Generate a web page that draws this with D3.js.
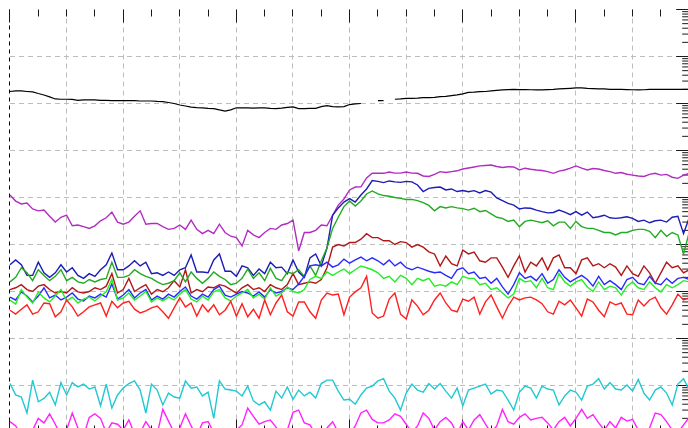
<!DOCTYPE html>
<html>
<head>
<meta charset="utf-8">
<script src="https://cdn.jsdelivr.net/npm/d3@7"></script>
<style>
  html, body { margin: 0; padding: 0; background: #fff; overflow: hidden; }
  svg { display: block; }
</style>
</head>
<body>
<svg id="chart" width="688" height="428"></svg>
<script>
// Sample times (one reading every 10 units over 0..1200)
const step = 10;
const time = d3.range(0, 1201, step);

// Tick positions along the time axis
const gridTimes = d3.range(100, 1200, 100);
const minorTimes = d3.range(0, 1201, 50);
const majorEvery = 200;

// Series readings (log-scaled quantity)
const black = [
  1.8e7, 1.85e7, 1.85e7, 1.8e7, 1.76e7, 1.63e7, 1.52e7, 1.38e7, 1.25e7, 1.23e7,
  1.23e7, 1.22e7, 1.17e7, 1.19e7, 1.19e7, 1.19e7, 1.17e7, 1.16e7, 1.15e7, 1.15e7,
  1.15e7, 1.15e7, 1.15e7, 1.13e7, 1.13e7, 1.13e7, 1.11e7, 1.1e7, 1.05e7, 1.0e7,
  9.3e6, 8.85e6, 8.4e6, 8.2e6, 8.1e6, 7.9e6, 7.8e6, 7.3e6, 6.9e6, 7.3e6,
  8.1e6, 8.1e6, 8.1e6, 8.0e6, 8.1e6, 8.1e6, 7.9e6, 7.8e6, 8.0e6, 8.3e6,
  8.5e6, 7.8e6, 7.8e6, 7.9e6, 7.9e6, 8.6e6, 9.0e6, 8.6e6, 8.5e6, 8.6e6,
  9.5e6, 9.8e6, 1.0e7, null, null, 1.15e7, 1.15e7, null, 1.23e7, 1.25e7,
  1.28e7, 1.29e7, 1.3e7, 1.33e7, 1.33e7, 1.35e7, 1.4e7, 1.42e7, 1.47e7, 1.52e7,
  1.6e7, 1.72e7, 1.74e7, 1.79e7, 1.8e7, 1.85e7, 1.9e7, 1.94e7, 1.98e7, 2.0e7,
  1.98e7, 1.98e7, 1.96e7, 1.94e7, 1.94e7, 1.98e7, 2.0e7, 2.04e7, 2.07e7, 2.1e7,
  2.14e7, 2.14e7, 2.09e7, 2.07e7, 2.04e7, 2.04e7, 2.0e7, 2.0e7, 2.0e7, 1.98e7,
  1.96e7, 1.94e7, 1.96e7, 2.0e7, 2.0e7, 2.0e7, 2.0e7, 2.0e7, 2.0e7, 2.0e7,
  2.0e7
];

const purple = [
  113000, 84000, 73000, 76000, 57000, 52000, 54000, 40000, 30000, 38000,
  42000, 25000, 26000, 24000, 22000, 25000, 32000, 37000, 49000, 30000,
  27000, 30000, 40000, 52000, 27000, 28000, 28000, 24000, 21000, 22000,
  26000, 21000, 33000, 21000, 17000, 20000, 17000, 27000, 18000, 15000,
  14000, 9300, 20000, 16000, 14000, 18000, 22000, 21000, 26000, 28000,
  33000, 7300, 18000, 18000, 20000, 26000, 25000, 42000, 69000, 93000,
  145000, 167000, 168000, 260000, 327000, 327000, 327000, 348000, 330000, 330000,
  348000, 330000, 327000, 287000, 280000, 310000, 355000, 340000, 355000, 370000,
  404000, 425000, 446000, 470000, 480000, 490000, 457000, 435000, 450000, 446000,
  385000, 420000, 400000, 385000, 375000, 355000, 327000, 365000, 385000, 420000,
  470000, 420000, 385000, 414000, 404000, 375000, 355000, 327000, 340000, 313000,
  300000, 287000, 280000, 310000, 327000, 300000, 310000, 270000, 256000, 300000,
  327000
];

const darkBlue = [
  3700, 4700, 3700, 2200, 2200, 4200, 2500, 2000, 2500, 3700,
  2600, 3200, 2200, 1900, 2400, 2100, 2900, 3700, 6600, 2900,
  2900, 3500, 4500, 3500, 4200, 2400, 2500, 2200, 2600, 2200,
  2900, 3200, 6000, 2600, 2600, 2500, 4700, 6300, 2700, 2700,
  2100, 3500, 3200, 2200, 3000, 2400, 4200, 3200, 3300, 2400,
  4700, 2600, 2000, 5200, 6300, 3500, 8400, 42000, 60000, 80000,
  95000, 80000, 113000, 152000, 230000, 220000, 207000, 225000, 215000, 210000,
  220000, 215000, 185000, 134000, 156000, 163000, 167000, 145000, 152000, 134000,
  141000, 133000, 140000, 125000, 141000, 130000, 98000, 86000, 75000, 69000,
  57000, 60000, 59000, 54000, 50000, 47000, 48000, 54000, 49000, 43000,
  50000, 42000, 49000, 37000, 39000, 42000, 37000, 36000, 37000, 39000,
  36000, 31000, 33000, 29000, 32000, 33000, 30000, 38000, 40000, 17000,
  37000
];

const darkGreen = [
  1600, 2000, 3200, 2500, 1700, 2900, 2200, 1700, 2100, 2900,
  1700, 2000, 1600, 1500, 1800, 1600, 1800, 1900, 4200, 2000,
  2000, 2200, 2900, 2400, 2100, 1900, 1600, 1400, 1500, 1700,
  2500, 1600, 2600, 1900, 1500, 1900, 2600, 2100, 1800, 1400,
  1500, 1900, 3000, 1900, 2500, 1700, 3100, 1900, 1700, 2600,
  2400, 2900, 2100, 3500, 2200, 4500, 8400, 22000, 38000, 64000,
  84000, 66000, 84000, 119000, 138000, 119000, 110000, 106000, 100000, 96000,
  91000, 91000, 86000, 78000, 68000, 52000, 64000, 60000, 64000, 60000,
  58000, 54000, 59000, 50000, 53000, 45000, 38000, 36000, 31000, 33000,
  24000, 31000, 33000, 31000, 29000, 32000, 25000, 30000, 30000, 22000,
  31000, 24000, 22000, 22000, 20000, 18000, 18000, 16000, 18000, 18000,
  20000, 21000, 21000, 19000, 14000, 20000, 15000, 18000, 16000, 6300,
  18000
];

const darkRed = [
  1100, 1200, 1400, 1100, 1000, 1300, 1400, 1100, 930, 1000,
  930, 1200, 980, 930, 1000, 1200, 1100, 1300, 2400, 930,
  1100, 1900, 1000, 1200, 1400, 880, 1100, 990, 1200, 1700,
  1250, 2900, 930, 1100, 990, 1250, 1200, 1400, 1300, 1100,
  920, 1200, 1400, 1100, 1200, 1000, 1400, 1200, 1100, 1400,
  2400, 1400, 1500, 1600, 1500, 1800, 3200, 8800, 10000, 9300,
  11000, 11000, 13000, 17000, 14000, 14000, 12000, 12000, 10000, 11500,
  11000, 8800, 10000, 8800, 7000, 6300, 3500, 5700, 3900, 3500,
  7600, 6300, 6900, 4500, 4200, 5200, 5200, 3300, 2000, 3500,
  5700, 2600, 4200, 3500, 5200, 2900, 5200, 6000, 3200, 3200,
  2400, 4700, 5200, 3500, 3900, 3200, 3900, 3300, 2200, 3500,
  2400, 2100, 3500, 2500, 1500, 2500, 4200, 3200, 3500, 2500,
  2900
];

const blue = [
  760, 660, 980, 800, 600, 800, 1200, 730, 840, 660,
  760, 930, 690, 630, 800, 730, 880, 760, 1450, 690,
  840, 1100, 730, 930, 1100, 660, 800, 690, 880, 760,
  1000, 1250, 800, 690, 880, 760, 1100, 1300, 840, 760,
  880, 1000, 930, 800, 980, 760, 1100, 930, 1000, 1200,
  1100, 1450, 2100, 3500, 3700, 3500, 4200, 3300, 3700, 4900,
  4000, 4700, 5400, 4500, 5200, 4500, 3700, 4700, 3500, 4200,
  3200, 2900, 3300, 3000, 2700, 2500, 2600, 2200, 1900, 2900,
  3200, 2400, 2600, 1900, 2000, 1500, 1900, 1250, 880, 1400,
  2500, 1900, 2100, 1700, 2400, 1500, 1800, 2900, 2000, 1600,
  1900, 2200, 1800, 1300, 2100, 1400, 1700, 1400, 1100, 1800,
  2000, 1500, 1400, 2100, 1500, 1400, 1900, 1500, 1900, 2000,
  1800
];

const lime = [
  660, 540, 1100, 760, 570, 980, 730, 600, 800, 1100,
  630, 760, 570, 690, 760, 630, 800, 980, 1800, 660,
  730, 930, 660, 800, 1000, 600, 730, 630, 760, 660,
  880, 1100, 690, 600, 800, 660, 980, 1100, 730, 630,
  800, 930, 1100, 730, 880, 690, 1200, 800, 930, 1250,
  1000, 930, 1100, 1800, 2100, 1900, 2600, 2200, 2600, 3000,
  2400, 2900, 3500, 3200, 2900, 2500, 1900, 2100, 1600, 2200,
  1900, 1400, 1900, 1700, 1900, 1300, 1400, 1300, 1600, 1400,
  2100, 1900, 1900, 1400, 1500, 1100, 1200, 930, 730, 880,
  1900, 1600, 1700, 1200, 1900, 1200, 1100, 2400, 1600, 1300,
  1600, 1800, 1250, 1000, 1600, 1100, 1300, 1200, 840, 1300,
  1600, 1200, 1100, 1600, 1200, 980, 1400, 1200, 1400, 1700,
  1600
];

const red = [
  400, 330, 420, 520, 330, 370, 570, 550, 290, 370,
  660, 470, 300, 370, 470, 520, 570, 300, 620, 450,
  570, 620, 420, 350, 385, 450, 490, 370, 270, 450,
  730, 470, 570, 300, 520, 370, 520, 320, 400, 620,
  300, 550, 290, 420, 270, 660, 320, 570, 840, 370,
  300, 600, 600, 370, 270, 660, 930, 840, 880, 320,
  760, 980, 1200, 2100, 350, 270, 300, 690, 930, 330,
  260, 660, 490, 320, 400, 660, 930, 570, 400, 370,
  690, 620, 760, 330, 600, 840, 470, 270, 490, 760,
  660, 730, 760, 660, 550, 370, 330, 620, 520, 660,
  450, 300, 690, 600, 400, 290, 600, 520, 570, 330,
  320, 660, 490, 660, 760, 450, 330, 520, 880, 660,
  730
];

const cyan = [
  11, 6.3, 5.7, 2.6, 13, 4.5, 5.3, 7.2, 3.85, 11.5,
  6.3, 11.5, 9.3, 10.7, 8.4, 9.3, 3.7, 10.7, 3.3, 6.3,
  8.8, 11, 12.5, 8.0, 2.6, 10.7, 8.0, 3.85, 6.9, 5.7,
  5.4, 12.5, 8.8, 9.3, 6.0, 7.2, 2.0, 12.5, 8.4, 8.0,
  7.6, 6.0, 9.7, 4.7, 3.85, 4.5, 3.0, 7.6, 5.4, 9.3,
  5.1, 8.0, 6.0, 7.2, 5.4, 11, 13, 13, 7.6, 4.9,
  5.1, 4.0, 6.3, 8.8, 9.7, 12.5, 14, 7.6, 5.4, 3.0,
  6.9, 10.7, 8.0, 7.2, 11, 8.4, 11, 7.6, 5.4, 8.8,
  3.7, 8.0, 8.8, 9.7, 10.7, 6.6, 8.0, 7.6, 4.9, 3.0,
  7.2, 9.7, 8.8, 5.4, 9.7, 8.4, 8.0, 3.85, 6.0, 8.0,
  7.2, 4.9, 9.7, 10.7, 14, 8.4, 11.5, 8.4, 8.0, 10.2,
  7.6, 13.5, 6.9, 4.9, 8.0, 9.3, 6.9, 3.85, 10.7, 14,
  8.0
];

const magenta = [
  1.7, 1.38, 0.88, 0.69, 1.13, 2.0, 1.6, 2.5, 1.5, 0.84,
  1.13, 2.6, 1.25, 0.84, 2.1, 2.5, 2.0, 1.0, 1.6, 1.5,
  1.13, 1.85, 0.93, 1.0, 1.7, 1.13, 0.93, 3.1, 1.75, 1.0,
  1.25, 2.5, 1.38, 0.84, 1.6, 1.7, 1.0, 0.76, 1.13, 0.84,
  1.13, 1.45, 3.3, 2.2, 1.5, 1.7, 1.85, 1.3, 0.84, 1.13,
  2.7, 3.0, 1.6, 1.45, 0.93, 0.84, 1.25, 1.7, 1.0, 0.76,
  0.93, 1.38, 2.6, 3.0, 1.9, 1.6, 1.6, 1.85, 2.5, 2.2,
  1.5, 1.0, 1.38, 2.6, 2.0, 1.13, 1.7, 2.1, 1.6, 0.93,
  1.7, 1.13, 1.85, 2.4, 1.5, 1.0, 1.38, 3.1, 1.7, 1.5,
  2.1, 2.5, 1.85, 2.0, 2.1, 1.6, 1.13, 1.7, 2.1, 1.38,
  2.0, 3.1, 2.0, 2.4, 1.6, 1.13, 1.7, 1.25, 2.1, 1.75,
  1.9, 1.13, 0.84, 1.25, 2.6, 2.4, 1.7, 1.13, 1.0, 1.45,
  2.1
];

// Drawing order, back to front
const series = [
  { name: "black",     values: black,     color: "#000000", width: 1.2 },
  { name: "purple",    values: purple,    color: "#b22cc2", width: 1.4 },
  { name: "magenta",   values: magenta,   color: "#ff22ff", width: 1.4 },
  { name: "cyan",      values: cyan,      color: "#22c8d2", width: 1.4 },
  { name: "darkRed",   values: darkRed,   color: "#b01818", width: 1.4 },
  { name: "darkBlue",  values: darkBlue,  color: "#1c1cb8", width: 1.4 },
  { name: "darkGreen", values: darkGreen, color: "#22aa22", width: 1.4 },
  { name: "blue",      values: blue,      color: "#2a2aff", width: 1.4 },
  { name: "lime",      values: lime,      color: "#22ee22", width: 1.4 },
  { name: "red",       values: red,       color: "#ff2020", width: 1.4 }
];

const svg = d3.select("#chart");
const plotLeft = 10, plotRight = 689.2, plotTop = 9.5, plotBottom = 432.5;

const x = d3.scaleLinear().domain([0, 1200]).range([plotLeft, plotRight]);
const y = d3.scaleLog().domain([1, 1e9]).range([plotBottom, plotTop]);

// snap a coordinate onto the pixel grid for 1px crisp strokes
const crisp = v => Math.floor(v - 0.01) + 0.5;

svg.append("rect").attr("width", 688).attr("height", 428).attr("fill", "#ffffff");

// Grid
const grid = svg.append("g").attr("stroke", "#bdbdbd").attr("stroke-width", 1)
  .attr("stroke-dasharray", "5,4").attr("fill", "none");

grid.selectAll("line.v").data(gridTimes).join("line")
  .attr("class", "v")
  .attr("x1", d => crisp(x(d))).attr("x2", d => crisp(x(d)))
  .attr("y1", plotTop).attr("y2", plotBottom);

const decades = d3.range(1, 9).map(k => Math.pow(10, k));
grid.selectAll("line.h").data(decades).join("line")
  .attr("class", "h")
  .attr("x1", plotLeft).attr("x2", plotRight)
  .attr("y1", d => y(d)).attr("y2", d => y(d));

// Left edge
svg.append("line")
  .attr("x1", 9.5).attr("x2", 9.5).attr("y1", plotTop).attr("y2", plotBottom)
  .attr("stroke", "#000").attr("stroke-width", 1).attr("stroke-dasharray", "4,4");

// Top and bottom time ticks
const tickLen = t => (t % majorEvery === 0 ? 13 : 7);
const ticks = svg.append("g").attr("stroke", "#1a1a1a").attr("stroke-width", 1);
ticks.selectAll("line.top").data(minorTimes).join("line")
  .attr("class", "top")
  .attr("x1", d => crisp(x(d))).attr("x2", d => crisp(x(d)))
  .attr("y1", plotTop).attr("y2", d => plotTop + tickLen(d));
ticks.selectAll("line.bot").data(minorTimes).join("line")
  .attr("class", "bot")
  .attr("x1", d => crisp(x(d))).attr("x2", d => crisp(x(d)))
  .attr("y1", plotBottom).attr("y2", d => plotBottom - tickLen(d));

// Right log axis: decades long, intermediate steps short
const logTicks = y.ticks();
const isDecade = d => Math.abs(Math.log10(d) - Math.round(Math.log10(d))) < 1e-9;
const rightMajor = d3.axisLeft(y).tickValues(logTicks.filter(isDecade))
  .tickSize(13).tickFormat("").offset(0);
const rightMinor = d3.axisLeft(y).tickValues(logTicks.filter(d => !isDecade(d)))
  .tickSize(7).tickFormat("").offset(0);
[rightMajor, rightMinor].forEach(ax => {
  const g = svg.append("g").attr("transform", `translate(${plotRight},0)`).call(ax);
  g.select(".domain").remove();
  g.selectAll(".tick line").attr("stroke", "#1a1a1a");
});

// Series lines
const line = d3.line()
  .defined(d => d != null)
  .x((d, i) => x(time[i]))
  .y(d => y(d));

svg.append("g").attr("fill", "none")
  .selectAll("path").data(series).join("path")
  .attr("d", s => line(s.values))
  .attr("stroke", s => s.color)
  .attr("stroke-width", s => s.width)
  .attr("stroke-linejoin", "miter");
</script>
</body>
</html>
